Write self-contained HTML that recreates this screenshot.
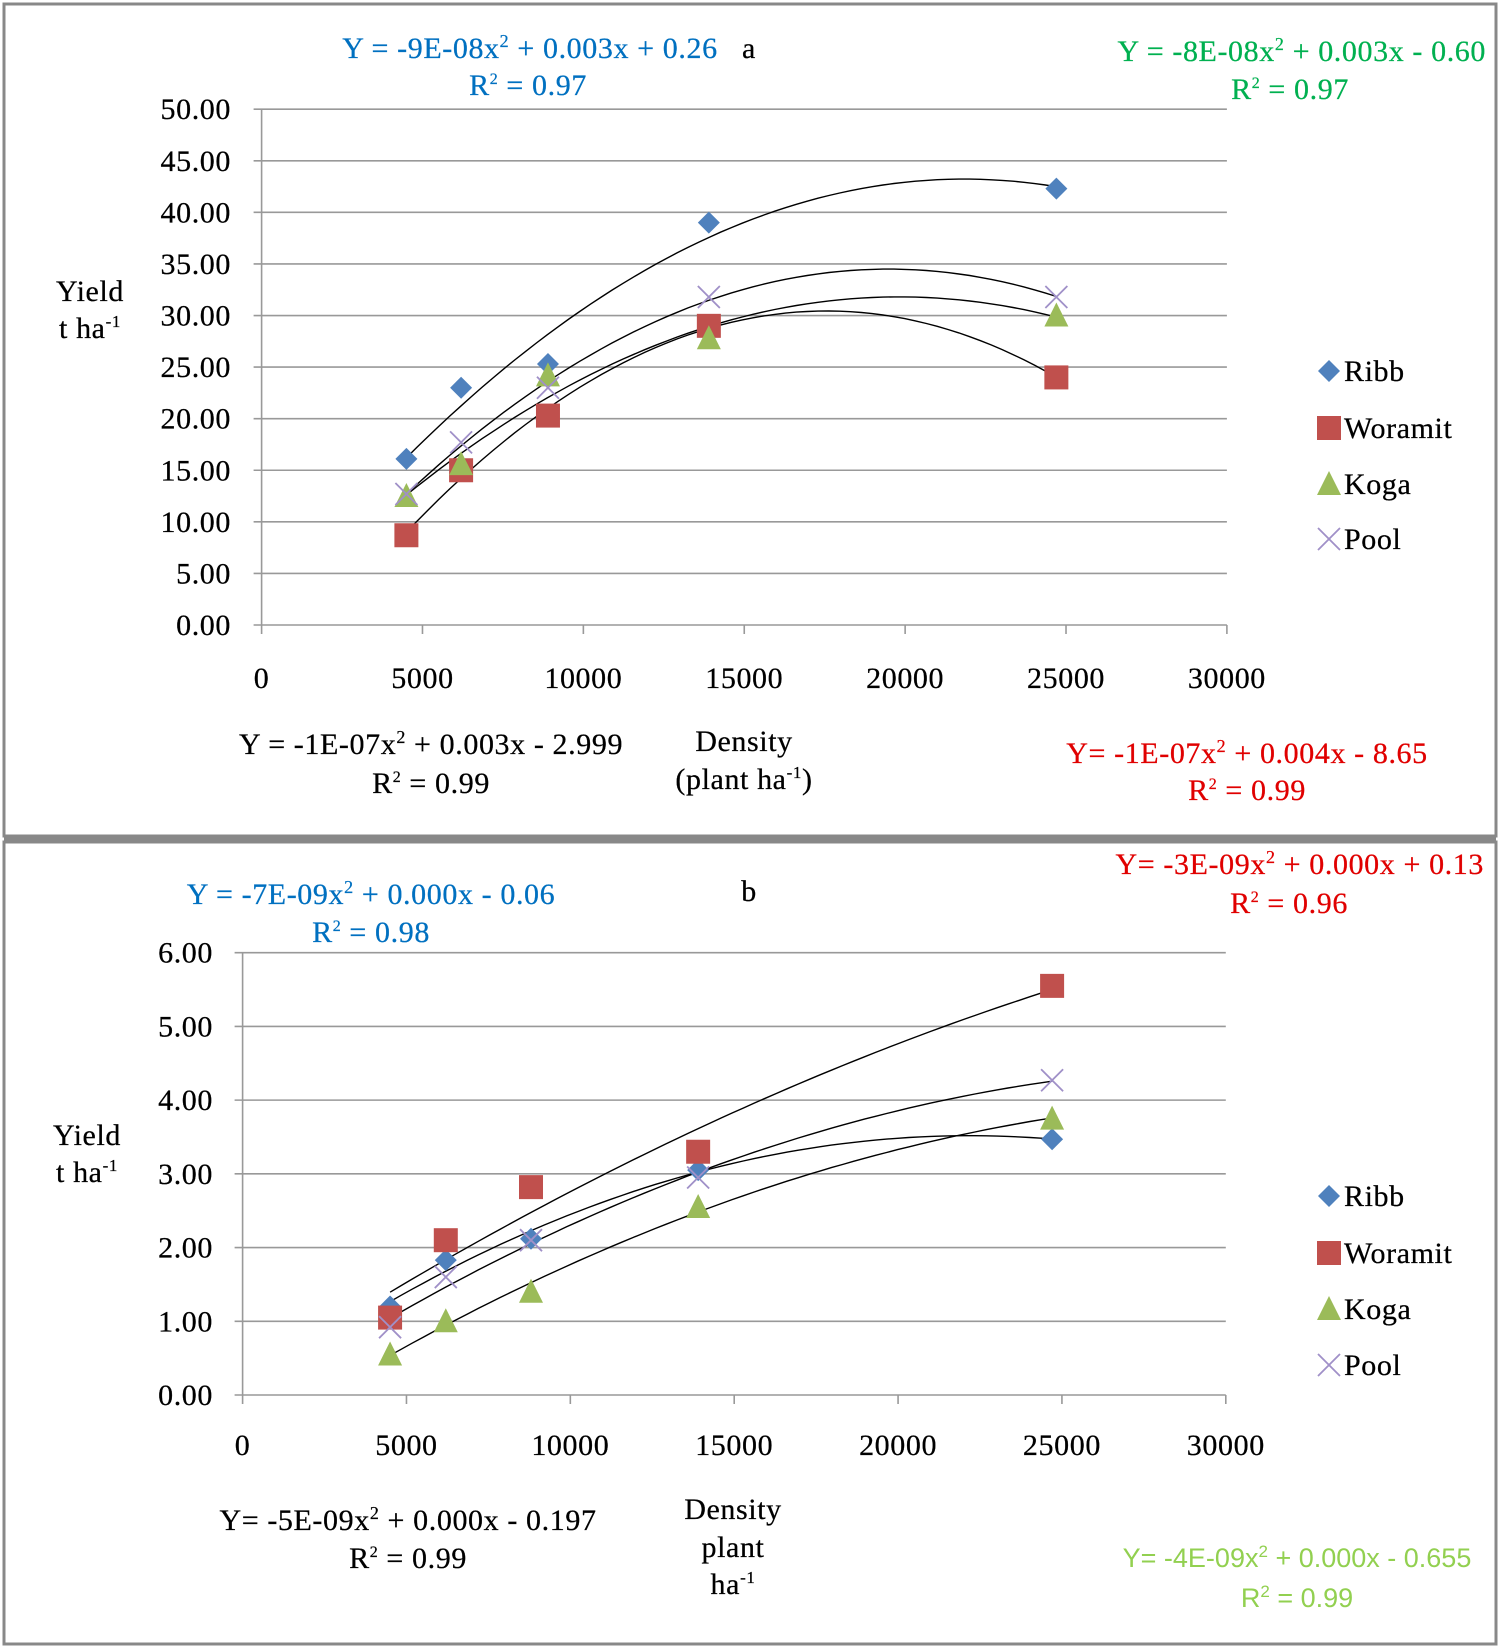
<!DOCTYPE html>
<html><head><meta charset="utf-8"><style>
html,body{margin:0;padding:0;background:#fff}
svg{display:block}
text{font-family:"Liberation Serif",serif;font-size:30px;letter-spacing:0.6px;stroke:currentColor;stroke-width:0.25}
.s{font-family:"Liberation Sans",sans-serif;font-size:27px;letter-spacing:0;stroke-width:0}
</style></head><body>
<svg id="svg" width="1500" height="1647" viewBox="0 0 1500 1647" xmlns="http://www.w3.org/2000/svg">
<rect x="4" y="4" width="1492" height="832" fill="none" stroke="#888" stroke-width="3"/>
<rect x="4" y="842" width="1492" height="802" fill="none" stroke="#888" stroke-width="3"/>
<rect x="4" y="836" width="1492" height="6" fill="#888"/>
<g id="ga"></g>
<g id="gb"></g>
<text x="530" y="58" text-anchor="middle" fill="#0070c0" color="#0070c0">Y = -9E-08x<tspan font-size="18" dy="-11">2</tspan><tspan dy="11"> + 0.003x + 0.26</tspan></text>
<text x="749" y="58" text-anchor="middle" fill="#000">a</text>
<text x="528" y="95" text-anchor="middle" fill="#0070c0" color="#0070c0">R<tspan font-size="16" dy="-11">2</tspan><tspan dy="11"> = 0.97</tspan></text>
<text x="1486" y="61" text-anchor="end" fill="#00b050" color="#00b050">Y = -8E-08x<tspan font-size="18" dy="-11">2</tspan><tspan dy="11"> + 0.003x - 0.60</tspan></text>
<text x="1290" y="99" text-anchor="middle" fill="#00b050" color="#00b050">R<tspan font-size="16" dy="-11">2</tspan><tspan dy="11"> = 0.97</tspan></text>
<text x="431" y="754" text-anchor="middle" fill="#000">Y = -1E-07x<tspan font-size="18" dy="-11">2</tspan><tspan dy="11"> + 0.003x - 2.999</tspan></text>
<text x="431" y="793" text-anchor="middle" fill="#000">R<tspan font-size="16" dy="-11">2</tspan><tspan dy="11"> = 0.99</tspan></text>
<text x="744" y="751" text-anchor="middle">Density</text>
<text x="744" y="789" text-anchor="middle">(plant ha<tspan font-size="17" dy="-11">-1</tspan><tspan dy="11">)</tspan></text>
<text x="1247" y="763" text-anchor="middle" fill="#e00000" color="#e00000">Y= -1E-07x<tspan font-size="18" dy="-11">2</tspan><tspan dy="11"> + 0.004x - 8.65</tspan></text>
<text x="1247" y="800" text-anchor="middle" fill="#e00000" color="#e00000">R<tspan font-size="16" dy="-11">2</tspan><tspan dy="11"> = 0.99</tspan></text>
<text x="90" y="301" text-anchor="middle">Yield</text>
<text x="90" y="338" text-anchor="middle">t ha<tspan font-size="17" dy="-11">-1</tspan></text>
<text x="371" y="904" text-anchor="middle" fill="#0070c0" color="#0070c0">Y = -7E-09x<tspan font-size="18" dy="-11">2</tspan><tspan dy="11"> + 0.000x - 0.06</tspan></text>
<text x="371" y="942" text-anchor="middle" fill="#0070c0" color="#0070c0">R<tspan font-size="16" dy="-11">2</tspan><tspan dy="11"> = 0.98</tspan></text>
<text x="749" y="901" text-anchor="middle" font-size="33">b</text>
<text x="1484" y="874" text-anchor="end" fill="#e00000" color="#e00000">Y= -3E-09x<tspan font-size="18" dy="-11">2</tspan><tspan dy="11"> + 0.000x + 0.13</tspan></text>
<text x="1289" y="913" text-anchor="middle" fill="#e00000" color="#e00000">R<tspan font-size="16" dy="-11">2</tspan><tspan dy="11"> = 0.96</tspan></text>
<text x="408" y="1530" text-anchor="middle">Y= -5E-09x<tspan font-size="18" dy="-11">2</tspan><tspan dy="11"> + 0.000x - 0.197</tspan></text>
<text x="408" y="1568" text-anchor="middle">R<tspan font-size="16" dy="-11">2</tspan><tspan dy="11"> = 0.99</tspan></text>
<text x="733" y="1519" text-anchor="middle">Density</text>
<text x="733" y="1557" text-anchor="middle">plant</text>
<text x="733" y="1594" text-anchor="middle">ha<tspan font-size="17" dy="-11">-1</tspan></text>
<text x="1297" y="1567" text-anchor="middle" fill="#92d050" class="s">Y= -4E-09x<tspan font-size="17" dy="-10">2</tspan><tspan dy="10"> + 0.000x - 0.655</tspan></text>
<text x="1297" y="1607" text-anchor="middle" fill="#92d050" class="s">R<tspan font-size="17" dy="-10">2</tspan><tspan dy="10"> = 0.99</tspan></text>
<text x="87" y="1145" text-anchor="middle">Yield</text>
<text x="87" y="1182" text-anchor="middle">t ha<tspan font-size="17" dy="-11">-1</tspan></text>
</svg>
<script>
const seriesNames = ["Ribb","Woramit","Koga","Pool"];
const xTicks = [0,5000,10000,15000,20000,25000,30000];
const densityA = [4500,6200,8900,13900,24700];
const ribbA = [16.1,23.0,25.3,39.0,42.3];
const woramitA = [8.7,15.0,20.3,29.0,24.0];
const kogaA = [12.5,15.6,24.2,27.8,30.0];
const poolA = [12.7,17.7,23.0,31.8,31.8];
const yTicksA = [0,5,10,15,20,25,30,35,40,45,50];
const densityB = [4500,6200,8800,13900,24700];
const ribbB = [1.20,1.83,2.12,3.05,3.47];
const woramitB = [1.05,2.10,2.82,3.30,5.55];
const kogaB = [0.55,1.00,1.40,2.55,3.75];
const poolB = [0.92,1.60,2.10,2.95,4.27];
const yTicksB = [0,1,2,3,4,5,6];

const NS="http://www.w3.org/2000/svg";
const colors=["#4f81bd","#c0504d","#9bbb59","#8064a2"];
function mk(t,a,p){const e=document.createElementNS(NS,t);for(const k in a)e.setAttribute(k,a[k]);p.appendChild(e);return e;}
function fit(xs,ys){
  let S=[0,0,0,0,0],T=[0,0,0];
  xs.forEach((x,i)=>{const u=x/10000;let p=1;for(let k=0;k<5;k++){S[k]+=p;if(k<3)T[k]+=p*ys[i];p*=u;}});
  const M=[[S[0],S[1],S[2],T[0]],[S[1],S[2],S[3],T[1]],[S[2],S[3],S[4],T[2]]];
  for(let i=0;i<3;i++){for(let j=i+1;j<3;j++){const f=M[j][i]/M[i][i];for(let k=i;k<4;k++)M[j][k]-=f*M[i][k];}}
  const c=[0,0,0];for(let i=2;i>=0;i--){let s=M[i][3];for(let k=i+1;k<3;k++)s-=M[i][k]*c[k];c[i]=s/M[i][i];}
  return x=>{const u=x/10000;return c[0]+c[1]*u+c[2]*u*u;};
}
function marker(g,k,cx,cy,name){
  let e;
  if(k===0)e=mk("polygon",{points:`${cx},${cy-11} ${cx+11},${cy} ${cx},${cy+11} ${cx-11},${cy}`,fill:colors[0]},g);
  else if(k===1)e=mk("rect",{x:cx-12,y:cy-12,width:24,height:24,fill:colors[1]},g);
  else if(k===2)e=mk("polygon",{points:`${cx},${cy-13} ${cx+12},${cy+11} ${cx-12},${cy+11}`,fill:colors[2]},g);
  else {e=mk("path",{d:`M${cx-11},${cy-11}L${cx+11},${cy+11}M${cx+11},${cy-11}L${cx-11},${cy+11}`,stroke:"#a090c8","stroke-width":1.8,fill:"none"},g);}
  
  
}
function chart(g,cfg){
  const {x0,x1,y0,y1,ymax,yTicks,xs,series,ylabX,xlabY,legY}=cfg;
  const X=v=>x0+(x1-x0)*v/30000, Y=v=>y0-(y0-y1)*v/ymax;
  yTicks.forEach(t=>{
    const l=mk("line",{x1:x0-8,x2:x1,y1:Y(t),y2:Y(t),stroke:"#999","stroke-width":1.6},g);
    
    
    const tx=mk("text",{x:ylabX,y:Y(t)+10,"text-anchor":"end"},g);tx.textContent=t.toFixed(2);
    
    
  });
  const ax=mk("line",{x1:x0,x2:x0,y1:y1,y2:y0,stroke:"#999","stroke-width":1.6},g);
  
  
  xTicks.forEach(t=>{
    const l=mk("line",{x1:X(t),x2:X(t),y1:y0,y2:y0+9,stroke:"#999","stroke-width":1.6},g);
    
    
    const tx=mk("text",{x:X(t),y:xlabY,"text-anchor":"middle"},g);tx.textContent=t;
    
    
  });
  series.forEach((ys,k)=>{
    const f=fit(xs,ys);let d="";
    for(let i=0;i<=60;i++){const x=xs[0]+(xs[xs.length-1]-xs[0])*i/60;d+=(i?"L":"M")+X(x).toFixed(1)+","+Y(f(x)).toFixed(1);}
    const p=mk("path",{d:d,fill:"none",stroke:"#000","stroke-width":1.4},g);
    
    
  });
  series.forEach((ys,k)=>ys.forEach((v,i)=>marker(g,k,X(xs[i]),Y(v),'point-'+seriesNames[k].toLowerCase())));
  seriesNames.forEach((n,k)=>{
    marker(g,k,1329,legY[k],'legend-marker-'+n.toLowerCase());
    const t=mk("text",{x:1344,y:legY[k]+10},g);t.textContent=n;
    
    
  });
}
chart(document.getElementById("ga"),{x0:261.6,x1:1226.9,y0:625,y1:109.2,ymax:50,yTicks:yTicksA,xs:densityA,
  series:[ribbA,woramitA,kogaA,poolA],ylabX:231,xlabY:688,legY:[371,428,484,539]});
chart(document.getElementById("gb"),{x0:242.6,x1:1225.8,y0:1395,y1:952.7,ymax:6,yTicks:yTicksB,xs:densityB,
  series:[ribbB,woramitB,kogaB,poolB],ylabX:213,xlabY:1455,legY:[1196,1253,1309,1365]});
</script>
</body></html>
